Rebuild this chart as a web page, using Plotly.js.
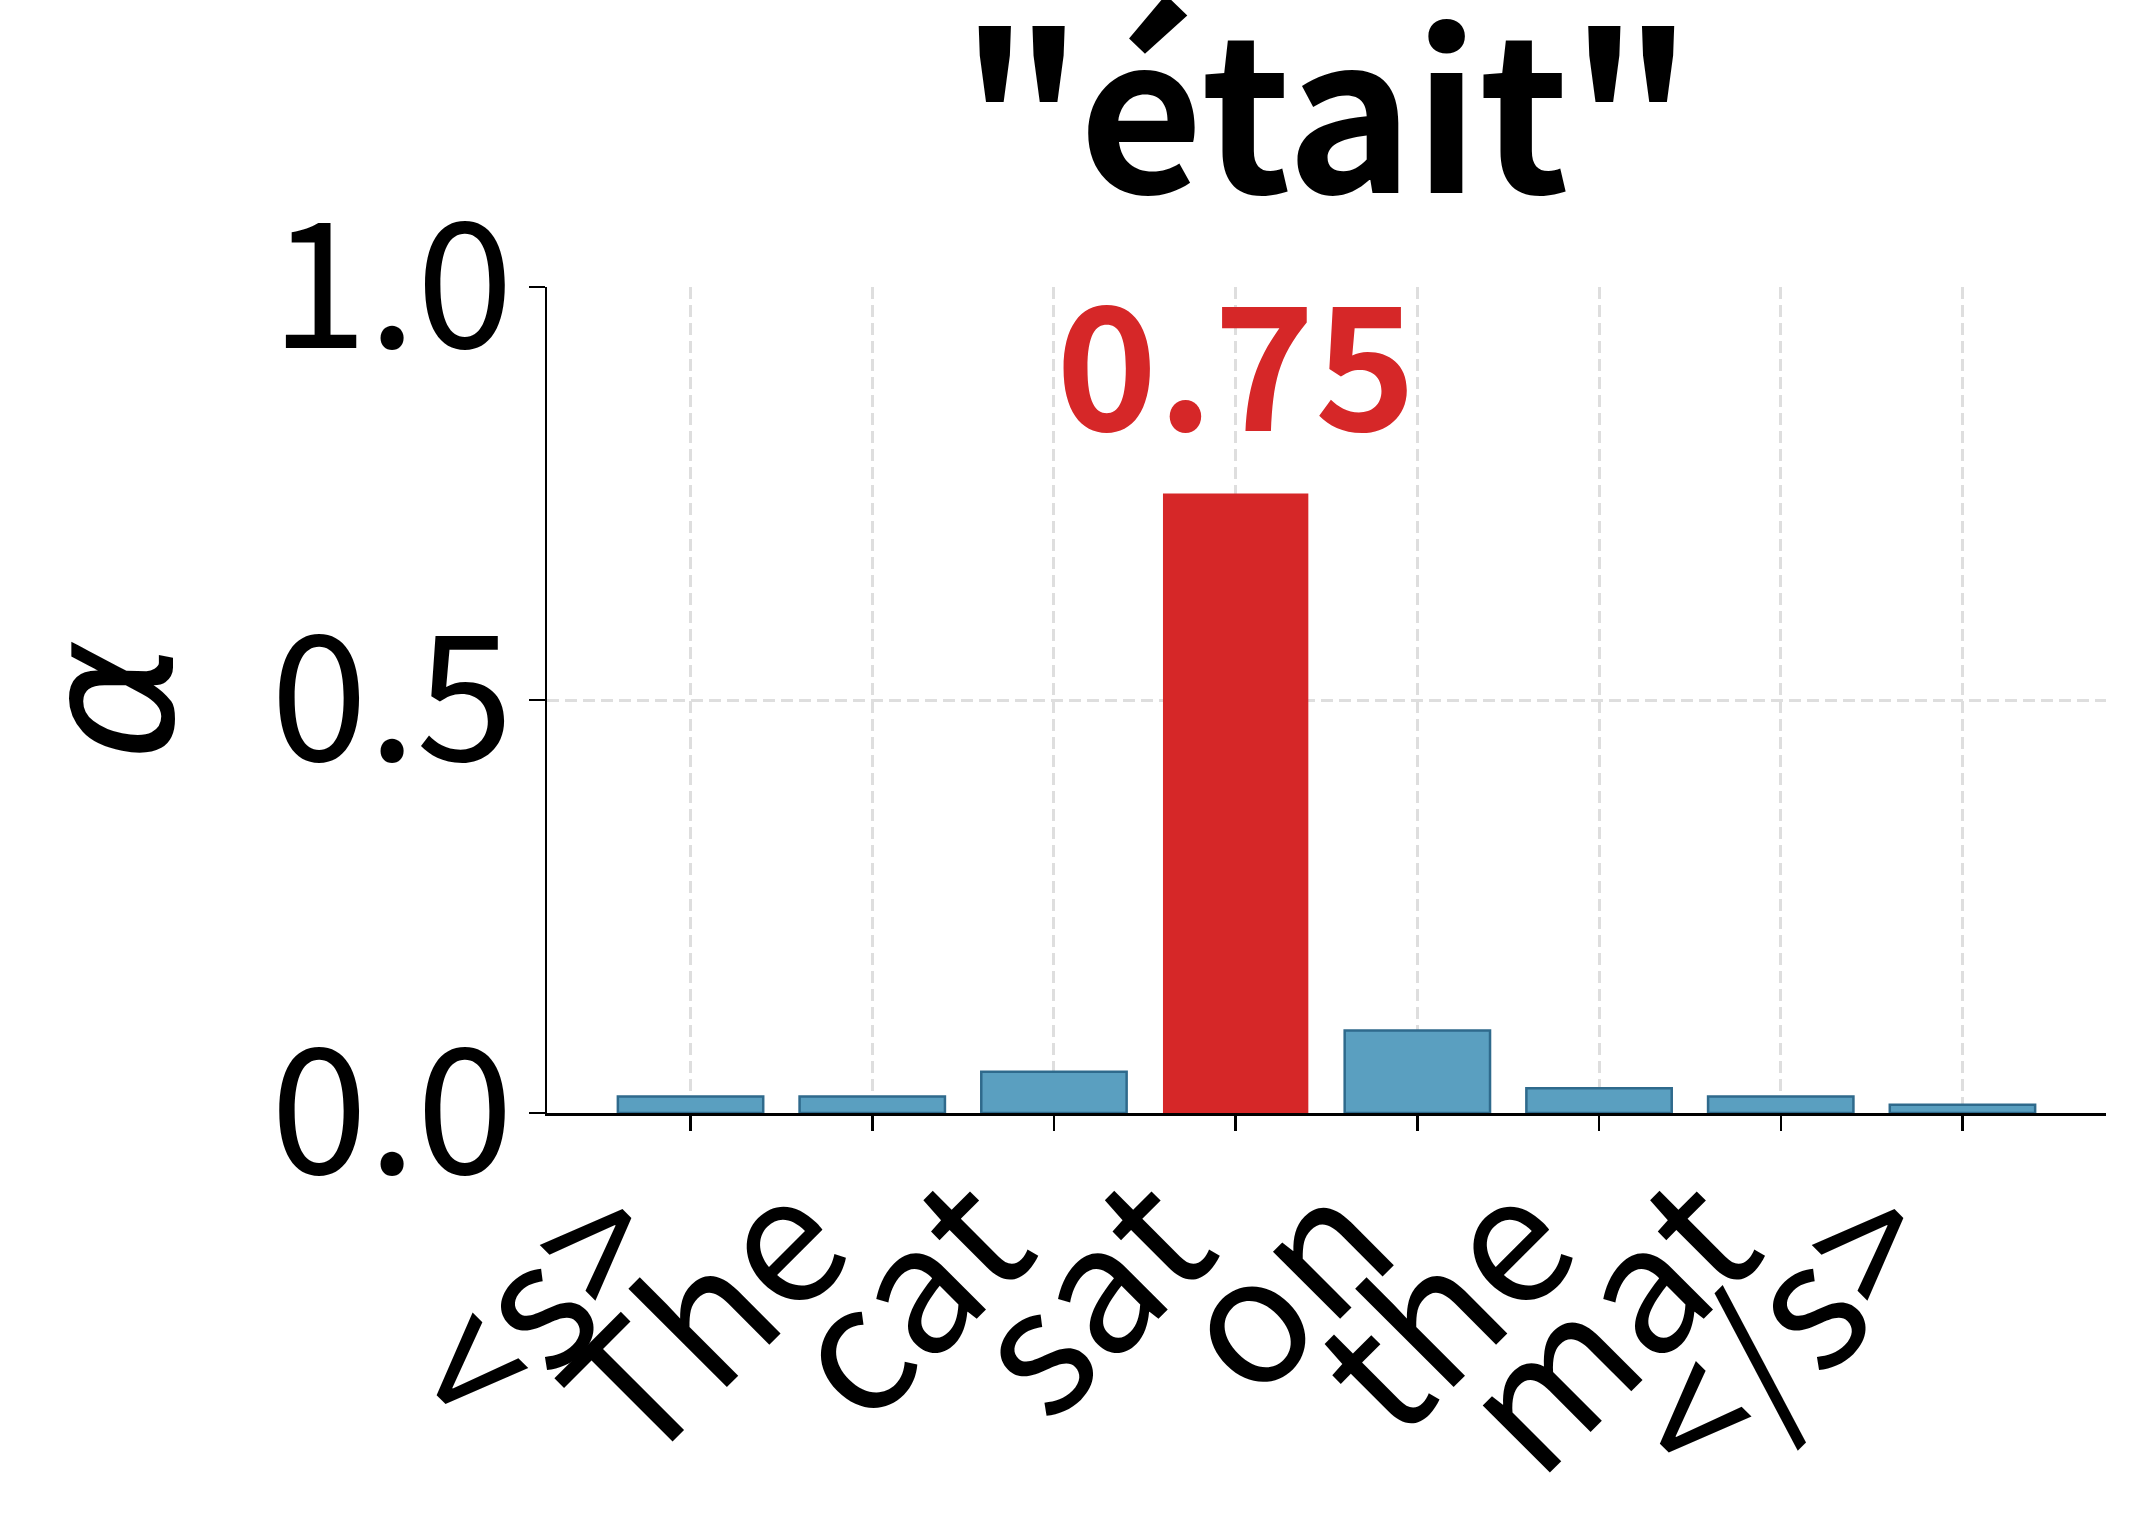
<!DOCTYPE html>
<html>
<head>
<meta charset="utf-8">
<script src="https://cdn.plot.ly/plotly-3.0.1.min.js"></script>
<style>
  html, body { margin: 0; padding: 0; background: #ffffff; }
  #chart { width: 2134px; height: 1534px; }
</style>
</head>
<body>
<div id="chart"></div>
<script>
// Source tokens and attention weights for the target word
const targetWord = 'était';
const tokens = ['<s>', 'The', 'cat', 'sat', 'on', 'the', 'mat', '</s>'];
const weights = [0.02, 0.02, 0.05, 0.75, 0.10, 0.03, 0.02, 0.01];
const yTicks = [0.0, 0.5, 1.0];

const FONT = '"Noto Sans CJK JP", "Noto Sans", sans-serif';
const BLUE = '#5a9fc0';
const BLUE_EDGE = '#2f6a8c';
const RED = '#d62728';
const GRID = '#dedede';

// highlight the strongest weight
const peak = weights.indexOf(Math.max(...weights));
const positions = tokens.map((t, i) => i);

// escape so "<s>" is not read as a strike-through tag
const escapeTag = s => s.replace(/</g, '&lt;').replace(/>/g, '&gt;');

const trace = {
    type: 'bar',
    x: positions,
    y: weights,
    width: 0.8,
    marker: {
        color: weights.map((w, i) => i === peak ? RED : BLUE),
        line: {
            color: weights.map((w, i) => i === peak ? RED : BLUE_EDGE),
            width: weights.map((w, i) => i === peak ? 0 : 2.5)
        }
    },
    hoverinfo: 'skip'
};

const layout = {
    width: 2134,
    height: 1534,
    paper_bgcolor: '#ffffff',
    plot_bgcolor: '#ffffff',
    font: { family: FONT, color: '#000000', size: 175 },
    margin: { l: 547, r: 28, t: 287, b: 421 },
    showlegend: false,
    title: {
        text: '<b>"' + targetWord + '"</b>',
        font: { family: FONT, size: 215, color: '#000000' },
        xref: 'paper',
        x: 0.5,
        xanchor: 'center',
        yref: 'container',
        y: 0.9726,
        yanchor: 'top'
    },
    xaxis: {
        range: [-0.79, tokens.length - 1 + 0.79],
        tickmode: 'array',
        tickvals: positions,
        ticktext: tokens.map(escapeTag),
        tickangle: -45,
        ticks: 'outside',
        ticklen: 15,
        tickwidth: 2.5,
        tickcolor: '#000000',
        ticklabelshift: -75,
        ticklabelstandoff: -60,
        tickfont: { family: FONT, size: 175, color: '#000000' },
        showline: true,
        linecolor: '#000000',
        linewidth: 2.5,
        showgrid: true,
        gridcolor: GRID,
        gridwidth: 3,
        griddash: '12px,6px',
        zeroline: false,
        automargin: false,
        fixedrange: true
    },
    yaxis: {
        range: [0, 1],
        tickmode: 'array',
        tickvals: yTicks,
        ticktext: yTicks.map(v => v.toFixed(1)),
        ticks: 'outside',
        ticklen: 16,
        tickwidth: 2.5,
        tickcolor: '#000000',
        ticklabelstandoff: -20,
        tickfont: { family: FONT, size: 175, color: '#000000' },
        showline: true,
        linecolor: '#000000',
        linewidth: 2.5,
        showgrid: true,
        gridcolor: GRID,
        gridwidth: 3,
        griddash: '12px,6px',
        zeroline: false,
        automargin: false,
        fixedrange: true,
        title: {
            text: 'α',
            font: { family: '"DejaVu Sans", sans-serif', size: 185, color: '#000000', style: 'italic' },
            standoff: 60
        }
    },
    annotations: [{
        x: peak,
        y: weights[peak],
        xref: 'x',
        yref: 'y',
        text: '<b>' + weights[peak].toFixed(2) + '</b>',
        showarrow: false,
        xanchor: 'center',
        yanchor: 'bottom',
        yshift: 11,
        font: { family: FONT, size: 172, color: RED }
    }]
};

Plotly.newPlot('chart', [trace], layout, { displayModeBar: false, responsive: false, staticPlot: true });
</script>
</body>
</html>
